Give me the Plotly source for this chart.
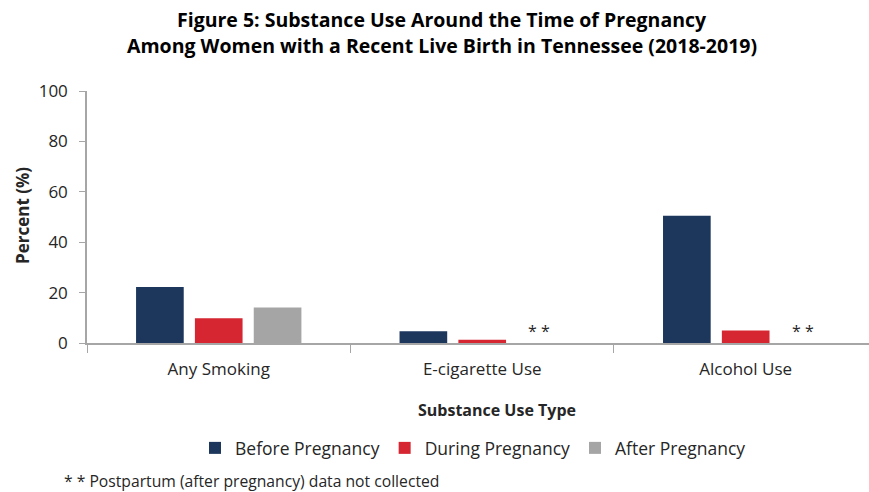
import plotly.graph_objects as go

categories = ["Any Smoking", "E-cigarette Use", "Alcohol Use"]
before = [22.2, 4.7, 50.5]
during = [9.8, 1.3, 5.0]
after = [14.1, None, None]
series_names = ["Before Pregnancy", "During Pregnancy", "After Pregnancy"]
colors = ["#1c365c", "#d62631", "#a5a5a5"]
not_collected = ["E-cigarette Use", "Alcohol Use"]
title_lines = ["Figure 5: Substance Use Around the Time of Pregnancy",
               "Among Women with a Recent Live Birth in Tennessee (2018-2019)"]

W, H = 869, 492
L, R, T, B = 87, 0, 91, 149
pw, ph = W - L - R, H - T - B

def px_x(x):
    return (x - L) / pw

def px_y(y):
    return (H - B - y) / ph

fig = go.Figure()
for name, vals, col in zip(series_names, [before, during, after], colors):
    fig.add_trace(go.Bar(name=name, x=categories, y=vals, marker_color=col,
                         marker_line_width=0))

font = "Open Sans, sans-serif"
txt = "#262626"

annotations = []
for c in not_collected:
    annotations.append(dict(x=c, y=0, xref="x", yref="y", text="* *", showarrow=False,
                            xshift=57, yshift=12, font=dict(family=font, size=16, color=txt)))
for line, yy in zip(title_lines, [20, 46]):
    annotations.append(dict(x=px_x(442), y=px_y(yy), xref="paper", yref="paper",
                            xanchor="center", yanchor="middle", text="<b>" + line + "</b>",
                            showarrow=False, font=dict(family=font, size=19.5, color="black")))
annotations += [
    dict(x=px_x(497), y=px_y(410), xref="paper", yref="paper", xanchor="center", yanchor="middle",
         text="<b>Substance Use Type</b>",
         showarrow=False, font=dict(family=font, size=16, color=txt)),
    dict(x=px_x(22), y=px_y(216), xref="paper", yref="paper", xanchor="center", yanchor="middle",
         text="<b>Percent (%)</b>",
         textangle=-90, showarrow=False, font=dict(family=font, size=17, color=txt)),
    dict(x=px_x(62), y=px_y(481), xref="paper", yref="paper", xanchor="left", yanchor="middle",
         text="* * Postpartum (after pregnancy) data not collected",
         showarrow=False, font=dict(family=font, size=15.7, color=txt)),
]

fig.update_layout(
    width=W, height=H,
    margin=dict(l=L, r=R, t=T, b=B),
    paper_bgcolor="white", plot_bgcolor="white",
    barmode="group", bargap=0.33, bargroupgap=0.19,
    legend=dict(orientation="h", x=px_x(473), xanchor="center", y=px_y(448), yanchor="middle",
                font=dict(family=font, size=17.5, color=txt), itemsizing="constant",
                itemwidth=30, tracegroupgap=0),
    annotations=annotations,
    xaxis=dict(range=[-0.5, 2.468], showline=True, linecolor="#a6a6a6", linewidth=2,
               ticks="outside", tickson="boundaries", ticklen=8, tickcolor="#a6a6a6",
               ticklabelstandoff=10,
               tickfont=dict(family=font, size=17, color=txt), showgrid=False, fixedrange=True),
    yaxis=dict(range=[0, 100], dtick=20, showline=True, linecolor="#a6a6a6", linewidth=1.5,
               ticks="outside", ticklen=6, tickcolor="#a6a6a6", showgrid=False, zeroline=False,
               ticklabelstandoff=8,
               tickfont=dict(family=font, size=17, color=txt)),
)

fig.write_html("out.html")
